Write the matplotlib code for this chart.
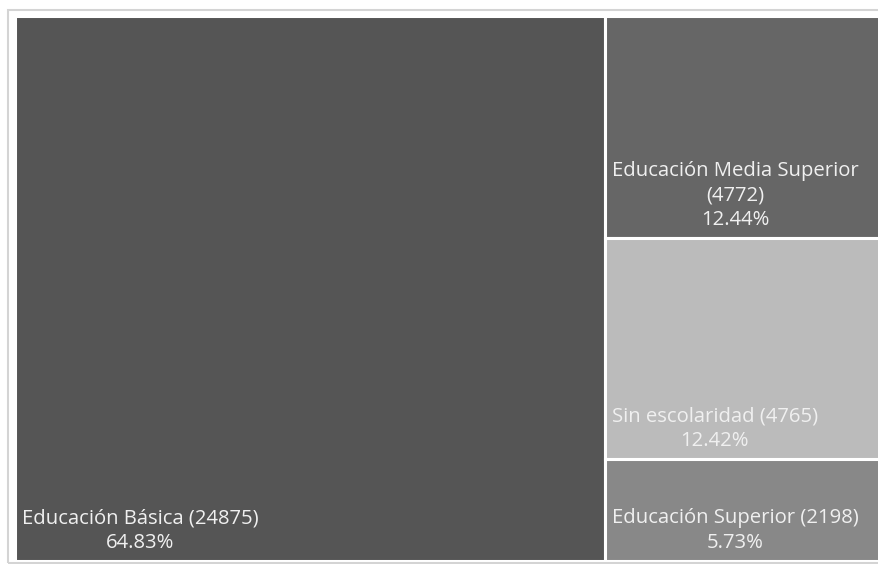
import matplotlib
matplotlib.use('Agg')
import matplotlib.pyplot as plt
from matplotlib.patches import Rectangle

# Data
categories = ['Educación Básica', 'Educación Media Superior', 'Sin escolaridad', 'Educación Superior']
counts = [24875, 4772, 4765, 2198]
percents = ['64.83%', '12.44%', '12.42%', '5.73%']
colors = ['#555555', '#666666', '#bbbbbb', '#888888']
label_lines = [
    ['Educación Básica (24875)'],
    ['Educación Media Superior', '(4772)'],
    ['Sin escolaridad (4765)'],
    ['Educación Superior (2198)'],
]

W, H = 879, 564
fig = plt.figure(figsize=(W / 100, H / 100), dpi=100)
fig.patch.set_facecolor('white')

# light frame around the chart
frame = Rectangle((8 / W, 1 - 563 / H), 1, (563 - 10) / H, transform=fig.transFigure,
                  facecolor='none', edgecolor='#d4d4d4', linewidth=1.5)
fig.patches.append(frame)

# plot area (right side extends past the image edge)
ax = fig.add_axes([15 / W, 1 - 561 / H, (883 - 15) / W, (561 - 16) / H])
ax.set_xlim(0, 1)
ax.set_ylim(0, 1)
ax.axis('off')

# slice: first item takes a column, the rest are stacked on the right
total = sum(counts)
x0 = counts[0] / total
rects = [(0, 0, x0, 1)]
rest = counts[1:]
rest_total = sum(rest)
y = 1.0
for c in rest:
    h = c / rest_total
    rects.append((x0, y - h, 1 - x0, h))
    y -= h

px_x = 1 / (883 - 15)
px_y = 1 / (561 - 16)
for (rx, ry, rw, rh), col, lines, pct in zip(rects, colors, label_lines, percents):
    ax.add_patch(Rectangle((rx, ry), rw, rh, facecolor=col, edgecolor='white', linewidth=2.2))
    ax.text(rx + 7 * px_x, ry + 8 * px_y, '\n'.join(lines + [pct]),
            ha='left', va='bottom', multialignment='center',
            color='#f0f0f0', fontsize=14.6, family='Open Sans', linespacing=1.3)

plt.savefig('out.png', dpi=100)
